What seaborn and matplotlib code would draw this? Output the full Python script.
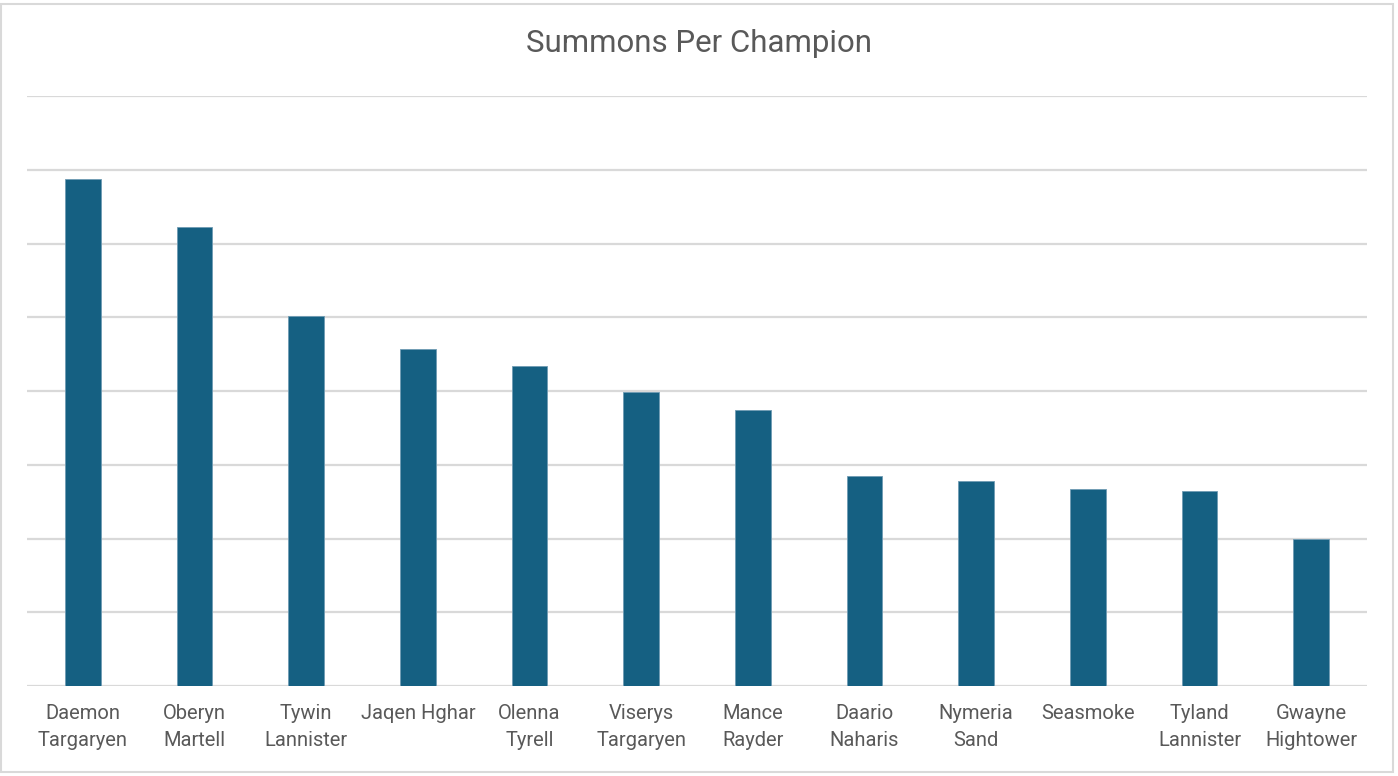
import matplotlib
matplotlib.use("Agg")
import matplotlib.pyplot as plt
import seaborn as sns
import pandas as pd
from matplotlib.patches import Rectangle

champions = ["Daemon\nTargaryen", "Oberyn\nMartell", "Tywin\nLannister", "Jaqen Hghar",
             "Olenna\nTyrell", "Viserys\nTargaryen", "Mance\nRayder", "Daario\nNaharis",
             "Nymeria\nSand", "Seasmoke", "Tyland\nLannister", "Gwayne\nHightower"]
summons = [6.87, 6.23, 5.02, 4.57, 4.34, 3.98, 3.74, 2.85, 2.78, 2.67, 2.65, 2.00]

df = pd.DataFrame({"champion": champions, "summons": summons})

sns.set_theme(style="white")
plt.rcParams['font.family'] = ['Roboto', 'DejaVu Sans']

fig = plt.figure(figsize=(13.98, 7.76), dpi=100)
ax = fig.add_axes([27/1398, 90/776, 1340/1398, 590/776])

sns.barplot(data=df, x="champion", y="summons", order=champions, color="#156082",
            saturation=1, width=0.32, edgecolor="#6f9bb3", linewidth=0.6, ax=ax, zorder=3)

ax.set_ylim(0, 8)
ax.set_yticks(range(0, 9))
ax.set_yticklabels([])
ax.yaxis.grid(True, color="#d9d9d9", linewidth=1.6, zorder=0)
ax.set_axisbelow(True)
for s in ax.spines.values():
    s.set_visible(False)
ax.set_xlabel("")
ax.set_ylabel("")
ax.tick_params(axis="x", length=0, pad=13, labelsize=14.5, labelcolor="#595959")
ax.tick_params(axis="y", length=0)
for lbl in ax.get_xticklabels():
    lbl.set_linespacing(1.55)

fig.text(0.5, 1 - 43/776, "Summons Per Champion", ha="center", va="center",
         fontsize=22.5, color="#595959")

# chart frame
fig.patches.append(Rectangle((1/1398, 4/776), 1392/1398, 768/776, transform=fig.transFigure,
                             fill=False, edgecolor="#d9d9d9", linewidth=1.5))

fig.savefig("out.png", dpi=100)
